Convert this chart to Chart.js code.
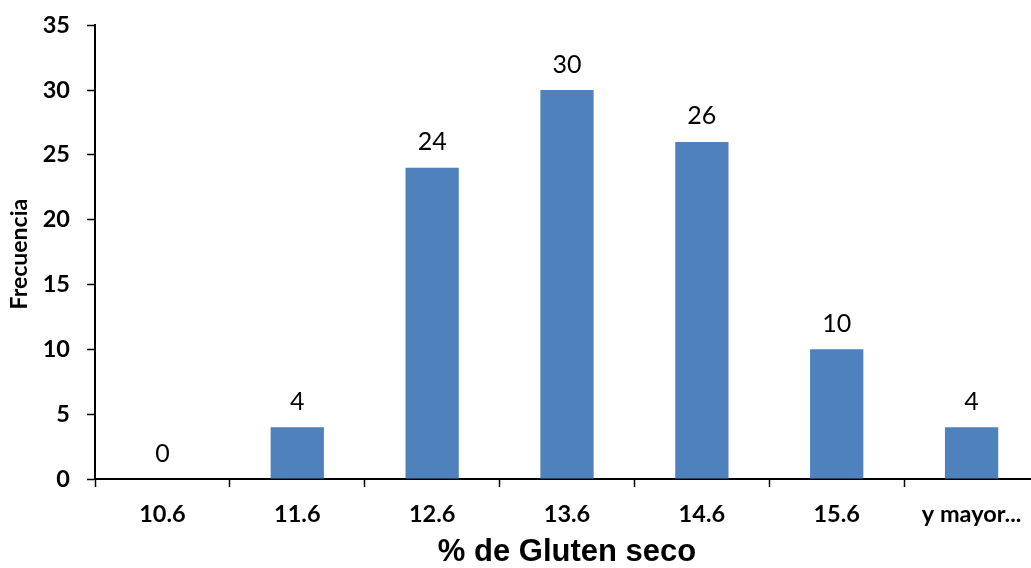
<!DOCTYPE html>
<html>
<head>
<meta charset="utf-8">
<script src="https://cdn.jsdelivr.net/npm/chart.js@4/dist/chart.umd.min.js"></script>
<style>
  html, body { margin: 0; padding: 0; background: #fff; overflow: hidden; }
  #wrap { width: 1031px; height: 568px; overflow: hidden; position: relative; }
  canvas { display: block; }
</style>
</head>
<body>
<div id="wrap"><canvas id="c" width="1045" height="568"></canvas></div>
<script>
// Histogram of dry gluten content
const categories = ['10.6', '11.6', '12.6', '13.6', '14.6', '15.6', 'y mayor...'];
const frecuencia = [0, 4, 24, 30, 26, 10, 4];
const yTicks = [0, 5, 10, 15, 20, 25, 30, 35];

const barColor = '#4F81BD';

// Value labels above each bar
const valueLabels = {
  id: 'valueLabels',
  afterDatasetsDraw(chart) {
    const { ctx } = chart;
    const meta = chart.getDatasetMeta(0);
    ctx.save();
    ctx.font = '25px Lato';
    ctx.fillStyle = '#000';
    ctx.textAlign = 'center';
    ctx.textBaseline = 'alphabetic';
    meta.data.forEach((bar, i) => {
      ctx.fillText(String(frecuencia[i]), bar.x, bar.y - 17.5);
    });
    ctx.restore();
  }
};

// Vertical axis caption
const yCaption = {
  id: 'yCaption',
  afterDraw(chart) {
    const { ctx, chartArea } = chart;
    ctx.save();
    ctx.translate(20, (chartArea.top + chartArea.bottom) / 2 + 2);
    ctx.rotate(-Math.PI / 2);
    ctx.font = 'bold 23px Lato';
    ctx.fillStyle = '#000';
    ctx.textAlign = 'center';
    ctx.textBaseline = 'middle';
    ctx.fillText('Frecuencia', 0, 0);
    ctx.restore();
  }
};

new Chart(document.getElementById('c'), {
  type: 'bar',
  data: {
    labels: categories,
    datasets: [{
      label: 'Frecuencia',
      data: frecuencia,
      backgroundColor: barColor,
      borderWidth: 0,
      categoryPercentage: 1,
      barPercentage: 0.395
    }]
  },
  options: {
    responsive: false,
    animation: false,
    layout: { padding: { left: 0, right: 6, top: 25, bottom: 0 } },
    plugins: {
      legend: { display: false },
      tooltip: { enabled: false }
    },
    scales: {
      x: {
        grid: {
          offset: true,
          drawOnChartArea: false,
          drawTicks: true,
          tickLength: 8,
          tickWidth: 1.5,
          tickColor: '#000'
        },
        border: { display: true, color: '#000', width: 2 },
        ticks: {
          color: '#000',
          font: { family: 'Lato', size: 23.5, weight: 'bold' },
          padding: 13,
          maxRotation: 0,
          autoSkip: false
        },
        title: {
          display: true,
          text: '% de Gluten seco',
          color: '#000',
          font: { family: 'Liberation Sans', size: 31, weight: 'bold', lineHeight: 1 },
          padding: { top: 0, bottom: 0 }
        },
        afterFit(scale) { scale.height = 89; }
      },
      y: {
        min: 0,
        max: 35,
        afterBuildTicks(scale) { scale.ticks = yTicks.map(v => ({ value: v })); },
        grid: {
          drawOnChartArea: false,
          drawTicks: true,
          tickLength: 8,
          tickWidth: 1.5,
          tickColor: '#000'
        },
        border: { display: true, color: '#000', width: 2 },
        ticks: {
          color: '#000',
          font: { family: 'Lato', size: 23.5, weight: 'bold', lineHeight: 0.7 },
          padding: 17
        },
        afterFit(scale) { scale.width = 95; }
      }
    }
  },
  plugins: [valueLabels, yCaption]
});
</script>
</body>
</html>
